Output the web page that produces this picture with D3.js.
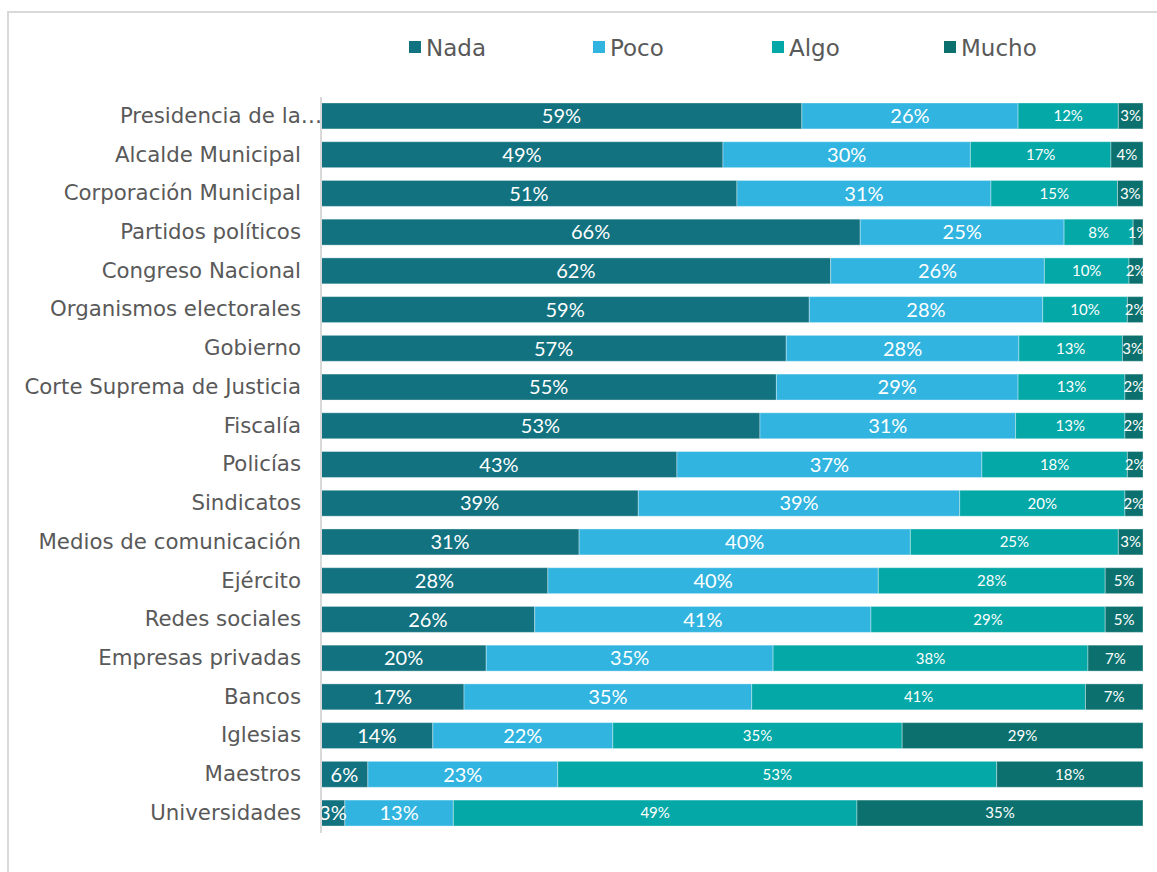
<!DOCTYPE html>
<html>
<head>
<meta charset="utf-8">
<script src="https://cdn.jsdelivr.net/npm/d3@7"></script>
<style>
  html, body { margin: 0; padding: 0; background: #fff; }
  svg { display: block; }
</style>
</head>
<body>
<svg id="chart" width="1157" height="872"></svg>
<script>
const categories = [
  "Presidencia de la…", "Alcalde Municipal", "Corporación Municipal", "Partidos políticos",
  "Congreso Nacional", "Organismos electorales", "Gobierno", "Corte Suprema de Justicia",
  "Fiscalía", "Policías", "Sindicatos", "Medios de comunicación", "Ejército",
  "Redes sociales", "Empresas privadas", "Bancos", "Iglesias", "Maestros", "Universidades"
];
const seriesNames = ["Nada", "Poco", "Algo", "Mucho"];
const nada  = [58.5, 48.9, 50.6, 65.6, 62.0, 59.4, 56.6, 55.4, 53.4, 43.3, 38.6, 31.4, 27.6, 26.0, 20.1, 17.4, 13.6, 5.7, 2.9];
const poco  = [26.3, 30.1, 30.9, 24.8, 26.0, 28.4, 28.3, 29.4, 31.1, 37.1, 39.1, 40.3, 40.2, 40.9, 34.9, 35.0, 21.9, 23.1, 13.2];
const algo  = [12.2, 17.1, 15.4, 8.4, 10.3, 10.3, 12.6, 13.0, 13.3, 17.7, 20.1, 25.3, 27.6, 28.5, 38.3, 40.6, 35.2, 53.4, 49.1];
const mucho = [3.0, 3.9, 3.1, 1.2, 1.7, 1.9, 2.5, 2.2, 2.2, 1.9, 2.2, 3.0, 4.6, 4.6, 6.7, 7.0, 29.3, 17.8, 34.8];
const colors = ["#127280", "#31B5E0", "#03A8A7", "#0C716E"];
const labelSizes = [20, 20, 15, 15];

const svg = d3.select("#chart");

// chart frame
svg.append("rect").attr("x", 8).attr("y", 12).attr("width", 1200).attr("height", 900)
  .attr("fill", "none").attr("stroke", "#d9d9d9").attr("stroke-width", 2);

const x = d3.scaleLinear().domain([0, 100]).range([321, 1143]);
const y = d3.scaleBand().domain(categories).range([96.6, 832.4]).paddingInner(0.33).paddingOuter(0.165);

const rows = categories.map((c, i) => {
  const vals = [nada[i], poco[i], algo[i], mucho[i]];
  const total = d3.sum(vals);
  let acc = 0;
  return vals.map((v, s) => {
    const p = v / total * 100;
    const seg = {cat: c, s, v, x0: acc, x1: acc + p};
    acc += p;
    return seg;
  });
}).flat();

svg.append("g").selectAll("rect").data(rows).join("rect")
  .attr("x", d => x(d.x0))
  .attr("y", d => y(d.cat))
  .attr("width", d => x(d.x1) - x(d.x0))
  .attr("height", y.bandwidth())
  .attr("fill", d => colors[d.s])
  .attr("stroke", "rgba(255,255,255,0.35)")
  .attr("stroke-width", 1);

svg.append("g").selectAll("text").data(rows).join("text")
  .attr("x", d => (x(d.x0) + x(d.x1)) / 2)
  .attr("y", d => y(d.cat) + y.bandwidth() / 2)
  .attr("dy", "0.36em")
  .attr("text-anchor", "middle")
  .attr("fill", "#ffffff")
  .attr("font-family", "Lato, 'Open Sans', sans-serif")
  .attr("font-size", d => labelSizes[d.s])
  .text(d => Math.round(d.v) + "%");

// category axis
const yAxis = d3.axisLeft(y).tickSize(0).tickPadding(20);
const gy = svg.append("g").attr("transform", "translate(321,0)").call(yAxis);
gy.select(".domain").remove();
gy.selectAll("text")
  .attr("fill", "#595959")
  .attr("font-family", "'DejaVu Sans', sans-serif")
  .attr("font-size", 21.3)
  .attr("dx", d => d.endsWith("…") ? 21 : 0);

svg.append("line").attr("x1", 321).attr("x2", 321).attr("y1", 97).attr("y2", 833)
  .attr("stroke", "#d9d9d9").attr("stroke-width", 2);

// legend
const legendX = [409, 593, 772, 944];
const lg = svg.append("g").selectAll("g").data(seriesNames).join("g")
  .attr("transform", (d, i) => `translate(${legendX[i]},0)`);
lg.append("rect").attr("x", 0).attr("y", 41).attr("width", 12).attr("height", 12)
  .attr("fill", (d, i) => colors[i]);
lg.append("text").attr("x", 17).attr("y", 56)
  .attr("fill", "#595959")
  .attr("font-family", "'DejaVu Sans', sans-serif")
  .attr("font-size", 23)
  .text(d => d);
</script>
</body>
</html>
